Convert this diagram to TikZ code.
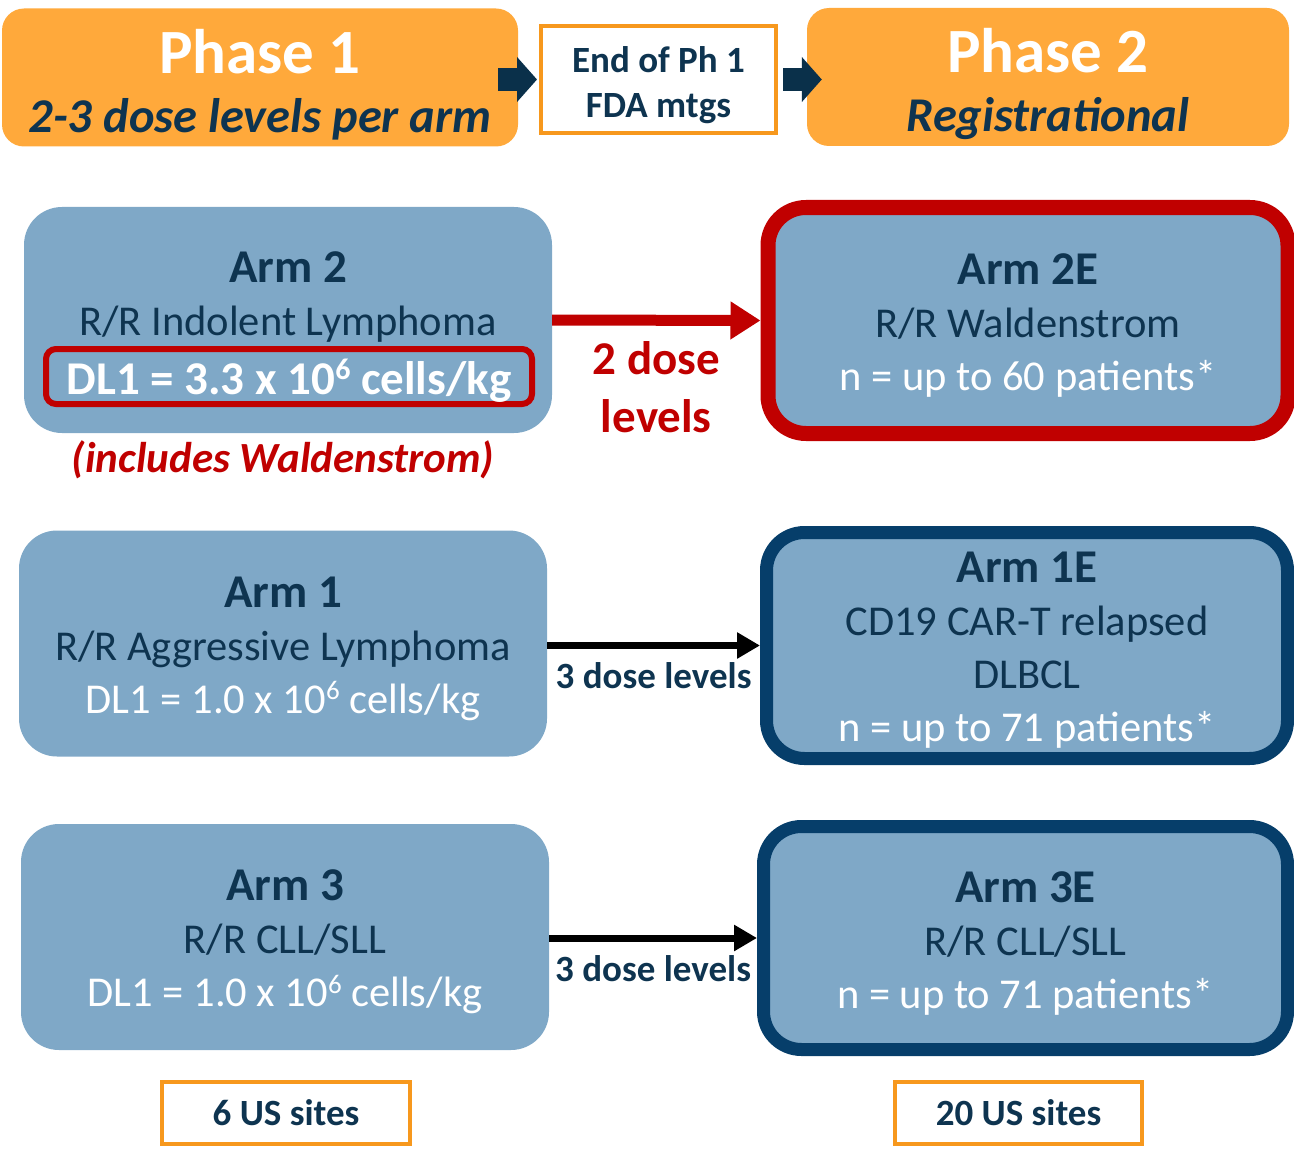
\documentclass[tikz,border=0pt]{standalone}
\usepackage{fontspec}
\setmainfont{Carlito}
\usetikzlibrary{arrows.meta,positioning}

\definecolor{phaseorange}{RGB}{255,169,59}
\definecolor{lineorange}{RGB}{247,152,29}
\definecolor{armblue}{RGB}{127,168,199}
\definecolor{navytxt}{RGB}{14,52,80}
\definecolor{navyline}{RGB}{6,62,106}
\definecolor{arrownavy}{RGB}{10,48,74}
\definecolor{darkred}{RGB}{192,0,0}

\newcommand{\fsz}[2]{\fontsize{#1}{#2}\selectfont}
\newcommand{\armtitle}[1]{{\bfseries\fsz{47}{53}#1}}
\newcommand{\whiteline}[1]{{\color{white}#1}}
\newcommand{\supr}[2]{\raisebox{0.32em}{\fsz{#1}{#1}#2}}

\begin{document}
\begin{tikzpicture}[x=1pt,y=-1pt,
  phasebox/.style={fill=phaseorange, rounded corners=22pt, inner sep=0pt,
    minimum height=138pt, align=center, text=navytxt, text height=118pt,
    font=\bfseries\itshape\fsz{48.5}{59}},
  whitebox/.style={draw=lineorange, line width=4pt, fill=white, inner sep=0pt,
    align=center, text=navytxt, font=\bfseries\fsz{37}{45}},
  armbox/.style={fill=armblue, rounded corners=38pt, inner sep=0pt,
    minimum width=528pt, minimum height=226pt, align=center, text=navytxt,
    text height=147pt, font=\fsz{42.5}{53}},
  extbox/.style={armbox, draw=#1, line width=13pt, minimum width=520pt},
  dlframe/.style={draw=darkred, line width=6pt, rounded corners=10pt,
    minimum width=486pt, minimum height=55pt, inner sep=0pt, text=white,
    text depth=0pt, font=\bfseries\fsz{47}{53}},
  blockarrow/.style={arrownavy, line width=23pt, -{Triangle[length=20pt,width=44pt]}},
  redarrow/.style={darkred, line width=11pt, -{Triangle[length=30pt,width=36pt]}},
  blackarrow/.style={black, line width=7pt, -{Triangle[length=23pt,width=25pt]}},
  redlbl/.style={text=darkred, inner sep=0pt, align=center, font=\bfseries\fsz{47}{58}},
  doselbl/.style={text=navytxt, inner sep=0pt, font=\bfseries\fsz{37}{45}}]

  \useasboundingbox (0,0) rectangle (1294,1153);

  % phases along the top
  \node[phasebox, minimum width=516pt] (phase1) at (260,77.5)
    {{\upshape\color{white}\fsz{63}{59}Phase 1}\\2-3 dose levels per arm};
  \node[whitebox, minimum width=235pt, minimum height=107pt, text height=82pt] (endph1) at (658.5,79.5)
    {End of Ph 1\\FDA mtgs};
  \node[phasebox, minimum width=482pt] (phase2) at (1048,77)
    {{\upshape\color{white}\fsz{63}{59}Phase 2}\\Registrational};
  \draw[blockarrow] ([xshift=-20pt]endph1.west -| phase1.east) -- ([xshift=-2pt]endph1.west);
  \draw[blockarrow] ([xshift=5pt]endph1.east) -- ([xshift=15pt]endph1.east -| phase2.west);

  % phase 1 arms
  \node[armbox, text height=152pt] (arm2) at (288,320) {\armtitle{Arm 2}\\R/R Indolent Lymphoma\\\strut};
  \node[dlframe] (dl2) at (289,376.5) {DL1 = 3.3 x 10\supr{30}{6} cells/kg};
  \node[below=7pt of arm2, xshift=-5pt, text=darkred, inner sep=0pt, font=\bfseries\itshape\fsz{43}{50}] (incl)
    {(includes Waldenstrom)};
  \node[armbox] (arm1) at (283,643.5)
    {\armtitle{Arm 1}\\R/R Aggressive Lymphoma\\\whiteline{DL1 = 1.0 x 10\supr{27}{6} cells/kg}};
  \node[armbox] (arm3) at (285,937)
    {\armtitle{Arm 3}\\R/R CLL/SLL\\\whiteline{DL1 = 1.0 x 10\supr{27}{6} cells/kg}};

  % phase 2 expansions
  \node[extbox=darkred, line width=15pt] (arm2e) at (1028,320.5)
    {\armtitle{Arm 2E}\\R/R Waldenstrom\\\whiteline{n = up to 60 patients*}};
  \node[extbox=navyline, minimum width=521pt, text height=198pt] (arm1e) at (1027,645.5)
    {\armtitle{Arm 1E}\\CD19 CAR-T relapsed\\DLBCL\\\whiteline{n = up to 71 patients*}};
  \node[extbox=navyline, minimum width=524pt, minimum height=223pt] (arm3e) at (1025.5,938)
    {\armtitle{Arm 3E}\\R/R CLL/SLL\\\whiteline{n = up to 71 patients*}};

  \draw[redarrow] (arm2.east) -- (arm2e.west)
    node[midway, below=16pt, redlbl] (dose2) {2 dose\\levels};
  \draw[blackarrow] (arm1e.west -| arm1.east) -- (arm1e.west)
    node[midway, below=14pt, doselbl] (dose1) {3 dose levels};
  \draw[blackarrow] (arm3e.west -| arm3.east) -- (arm3e.west)
    node[midway, below=14pt, doselbl] (dose3) {3 dose levels};

  % sites
  \node[whitebox, minimum width=248pt, minimum height=62pt] (sites1) at (286,1113) {6 US sites};
  \node[whitebox, minimum width=247pt, minimum height=62pt] (sites2) at (1018.5,1113) {20 US sites};
\end{tikzpicture}
\end{document}
